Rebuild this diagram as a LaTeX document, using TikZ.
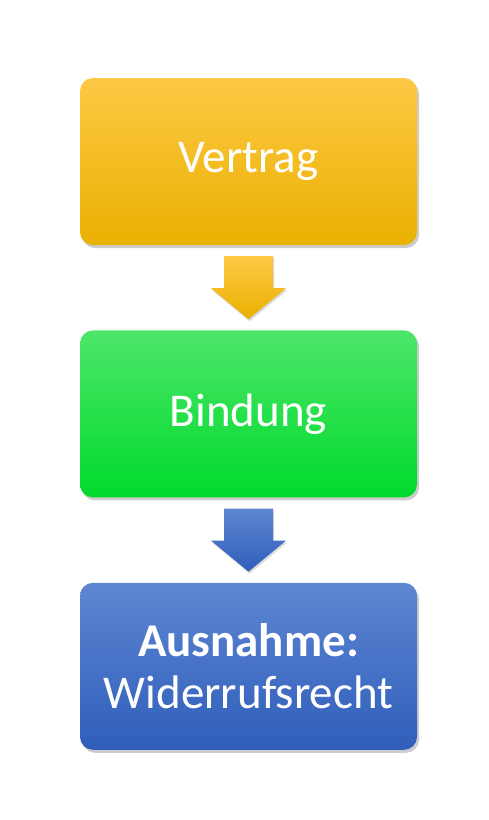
\documentclass[tikz,border=0pt]{standalone}
\usepackage{fontspec}
\setmainfont{Carlito}
\usetikzlibrary{calc,positioning,shadows}
\definecolor{orangetop}{HTML}{FFC845}
\definecolor{orangemid}{HTML}{FFC600}
\definecolor{orangebot}{HTML}{E9B100}
\definecolor{greentop}{HTML}{4DE66A}
\definecolor{greenbot}{HTML}{00DA2C}
\definecolor{bluetop}{HTML}{5E86D2}
\definecolor{bluebot}{HTML}{2F5EBA}
\tikzset{every picture/.style={
  >=latex                       % LaTeX style arrows.
  }
}

\begin{document}
\begin{tikzpicture}[
      node distance=85pt,
      box/.style={
        draw=none,
        rounded corners=13pt,
        minimum width=337pt,
        minimum height=167pt,
        inner sep=0pt,
        text=white,
        align=center,
        font=\fontsize{47}{52}\selectfont,
        drop shadow={shadow xshift=2pt,shadow yshift=-3pt,opacity=.4}
      }]

      \useasboundingbox (0,0) rectangle (488pt,-820pt);

      % Draw the three steps.
      \node[box,top color=orangetop,middle color=orangemid,bottom color=orangebot]
        at (248.5pt,-161.5pt) (vertrag) {Vertrag};
      \node[box,top color=greentop,bottom color=greenbot,below=of vertrag]
        (bindung) {Bindung};
      \node[box,top color=bluetop,bottom color=bluebot,below=of bindung]
        (ausnahme) {\textbf{Ausnahme:}\\Widerrufsrecht};

      % Draw the block arrows.
      \def\ba#1#2#3{            % Helper.
        \shade[top color=#2, bottom color=#3,
          drop shadow={shadow xshift=1pt,shadow yshift=-2pt,opacity=.3}]
          ($(#1.south)+(-24.5pt,-11pt)$) -- ($(#1.south)+(24.5pt,-11pt)$)
          -- ($(#1.south)+(24.5pt,-43pt)$) -- ($(#1.south)+(37.5pt,-43pt)$)
          -- ($(#1.south)+(0pt,-74pt)$) -- ($(#1.south)+(-37.5pt,-43pt)$)
          -- ($(#1.south)+(-24.5pt,-43pt)$) -- cycle
      }

      \ba{vertrag}{orangetop}{orangebot};
      \ba{bindung}{bluetop}{bluebot};

    \end{tikzpicture}
\end{document}
